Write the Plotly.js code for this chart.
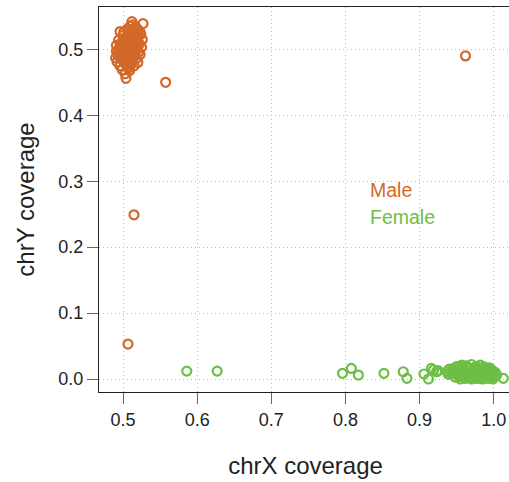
<!DOCTYPE html>
<html>
<head>
<meta charset="utf-8">
<script src="https://cdn.plot.ly/plotly-3.0.1.min.js"></script>
<style>
html,body{margin:0;padding:0;background:#fff;overflow:hidden;width:509px;height:482px;}
#chart{width:514px;height:482px;}
</style>
</head>
<body>
<div id="chart"></div>
<script>
// ---- data ----
const maleX = [0.512,0.527,0.496,0.506,0.517,0.521,0.509,0.524,0.500,0.515,0.503,0.519,0.494,0.511,0.526,0.498,0.507,0.516,0.522,0.491,0.502,0.512,0.525,0.495,0.505,0.518,0.491,0.499,0.510,0.521,0.493,0.503,0.514,0.523,0.490,0.497,0.508,0.518,0.492,0.502,0.512,0.520,0.496,0.506,0.515,0.499,0.509,0.503,0.504,0.510,0.514,0.501,0.520,0.508,0.504,0.496,0.515,0.507,0.500,0.511,0.494,0.517,0.509,0.501,0.513,0.505,0.498,
  0.513,0.518,0.523,0.507,0.512,0.519,0.504,0.509,0.514,0.520,0.500,0.506,0.512,0.517,0.497,0.503,0.508,0.513,0.519,0.495,0.501,0.506,0.511,0.516,0.498,0.504,0.509,0.514,0.501,0.506,0.511,0.504,0.508,0.507,
  0.5575,0.5148,0.5067,0.962];
const maleY = [0.542,0.539,0.527,0.531,0.534,0.529,0.524,0.523,0.521,0.520,0.516,0.517,0.514,0.514,0.515,0.510,0.509,0.510,0.508,0.506,0.505,0.505,0.503,0.501,0.500,0.500,0.497,0.496,0.495,0.496,0.491,0.490,0.490,0.492,0.487,0.486,0.485,0.486,0.481,0.480,0.479,0.480,0.475,0.474,0.475,0.469,0.468,0.463,0.456,0.535,0.527,0.526,0.512,0.517,0.511,0.505,0.498,0.492,0.484,0.488,0.495,0.505,0.500,0.500,0.483,0.478,0.491,
  0.537,0.532,0.526,0.528,0.522,0.524,0.519,0.518,0.516,0.520,0.513,0.512,0.510,0.513,0.507,0.507,0.504,0.502,0.503,0.499,0.498,0.496,0.498,0.493,0.493,0.489,0.488,0.494,0.486,0.482,0.484,0.477,0.472,0.479,
  0.450,0.249,0.053,0.490];

const femaleX = [0.586,0.627,0.796,0.808,0.8175,0.852,0.878,0.883,0.906,0.912,0.916,0.919,0.923,0.925,1.013,
  0.950,0.957,0.963,0.970,0.976,0.982,0.988,
  0.940,0.946,0.953,0.960,0.966,0.972,0.978,0.984,0.990,0.996,
  0.937,0.943,0.949,0.955,0.961,0.967,0.973,0.979,0.985,0.991,0.997,1.002,
  0.939,0.945,0.951,0.957,0.963,0.969,0.975,0.981,0.987,0.993,0.999,1.004,
  0.948,0.954,0.960,0.966,0.972,0.978,0.984,0.990,0.996,1.001,
  0.955,0.962,0.970,0.977,0.985,0.992,0.999,
  0.953,0.965,0.975,0.986,0.994,0.958,0.968,0.980,0.989,0.944,0.952,0.971,0.983,0.998,
  0.947,0.956,0.964,0.974,0.981,0.993,0.942,0.951,0.959,0.967,0.976,0.984,0.991,0.999,0.958,0.964,0.972,0.979,0.988,0.995,0.961,0.969,0.978,0.987,0.996,0.945,0.950,0.956];
const femaleY = [0.012,0.012,0.0086,0.016,0.006,0.0086,0.011,0.001,0.0076,0.000,0.016,0.0137,0.011,0.0126,0.001,
  0.019,0.021,0.020,0.022,0.019,0.021,0.018,
  0.015,0.016,0.014,0.015,0.016,0.014,0.015,0.016,0.014,0.015,
  0.011,0.012,0.010,0.011,0.012,0.010,0.011,0.012,0.010,0.011,0.012,0.010,
  0.007,0.008,0.006,0.007,0.008,0.006,0.007,0.008,0.006,0.007,0.008,0.006,
  0.003,0.004,0.002,0.003,0.004,0.002,0.003,0.004,0.002,0.003,
  0.000,0.001,0.000,0.001,0.000,0.001,0.000,
  0.017,0.018,0.017,0.018,0.017,0.009,0.005,0.009,0.005,0.009,0.013,0.013,0.013,0.013,
  0.011,0.013,0.012,0.013,0.012,0.012,0.009,0.008,0.010,0.009,0.010,0.009,0.010,0.009,0.006,0.004,0.005,0.004,0.006,0.005,0.002,0.002,0.001,0.002,0.002,0.012,0.015,0.018];

const xTickVals = [0.5,0.6,0.7,0.8,0.9,1.0];
const xTickText = ['0.5','0.6','0.7','0.8','0.9','1.0'];
const yTickVals = [0.0,0.1,0.2,0.3,0.4,0.5];
const yTickText = ['0.0','0.1','0.2','0.3','0.4','0.5'];
const legendLabels = ['Male','Female'];

const MALE = '#D2692A';
const FEMALE = '#6DBE45';
const FONT = 'Liberation Sans, Arial, Helvetica, sans-serif';

const traces = [
  {x: maleX, y: maleY, type: 'scatter', mode: 'markers', name: legendLabels[0],
   marker: {symbol: 'circle-open', size: 9, color: MALE, line: {width: 2.2, color: MALE}}},
  {x: femaleX, y: femaleY, type: 'scatter', mode: 'markers', name: legendLabels[1],
   marker: {symbol: 'circle-open', size: 9, color: FEMALE, line: {width: 2.2, color: FEMALE}}}
];

const axisCommon = {
  showline: true, mirror: true, linecolor: '#222', linewidth: 1,
  ticks: 'outside', ticklen: 11, tickcolor: '#666', tickwidth: 1,
  showgrid: true, gridcolor: '#bdbdbd', griddash: '1px,3px', gridwidth: 1,
  zeroline: false,
  tickfont: {family: FONT, size: 18, color: '#222'}
};

const layout = {
  width: 514, height: 482,
  margin: {l: 99, r: 2, t: 7, b: 90},
  paper_bgcolor: '#fff', plot_bgcolor: '#fff',
  showlegend: false,
  xaxis: Object.assign({}, axisCommon, {
    range: [0.4676, 1.0247], tickmode: 'array', tickvals: xTickVals, ticktext: xTickText,
    title: {text: 'chrX coverage', font: {family: FONT, size: 24, color: '#222'}, standoff: 28}
  }),
  yaxis: Object.assign({}, axisCommon, {
    range: [-0.0197, 0.5642], tickmode: 'array', tickvals: yTickVals, ticktext: yTickText,
    title: {text: 'chrY coverage', font: {family: FONT, size: 24, color: '#222'}, standoff: 16}
  }),
  annotations: [
    {x: 0.8305, y: 0.2866, xref: 'x', yref: 'y', text: legendLabels[0], showarrow: false,
     xanchor: 'left', yanchor: 'middle', font: {family: FONT, size: 19.5, color: MALE}},
    {x: 0.8305, y: 0.246, xref: 'x', yref: 'y', text: legendLabels[1], showarrow: false,
     xanchor: 'left', yanchor: 'middle', font: {family: FONT, size: 19.5, color: FEMALE}}
  ]
};

Plotly.newPlot('chart', traces, layout, {displayModeBar: false, staticPlot: true});
</script>
</body>
</html>
